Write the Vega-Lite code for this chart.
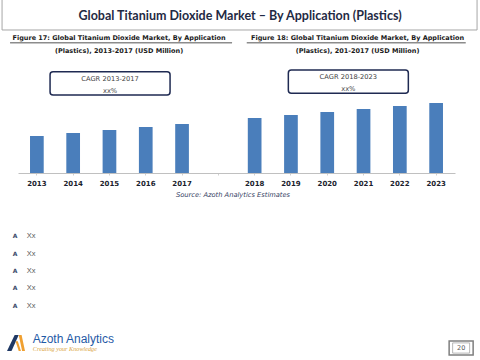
{
  "$schema": "https://vega.github.io/schema/vega-lite/v6.json",
  "autosize": {"type": "none"},
  "width": 437,
  "height": 120,
  "padding": {"left": 18, "right": 25, "top": 53, "bottom": 187},
  "background": "white",
  "config": {"view": {"stroke": null}},
  "data": {"values": [
    {"year": "2013", "value": 37},
    {"year": "2014", "value": 40},
    {"year": "2015", "value": 43},
    {"year": "2016", "value": 46},
    {"year": "2017", "value": 49},
    {"year": "2018", "value": 55},
    {"year": "2019", "value": 58},
    {"year": "2020", "value": 61},
    {"year": "2021", "value": 64},
    {"year": "2022", "value": 67},
    {"year": "2023", "value": 70}
  ]},
  "layer": [
    {
      "mark": {"type": "bar", "color": "#4a7ebb"},
      "encoding": {
        "x": {"field": "year", "type": "nominal",
          "scale": {"domain": ["2013","2014","2015","2016","2017","gap","2018","2019","2020","2021","2022","2023"], "paddingInner": 0.6225, "paddingOuter": 0.331},
          "axis": {"labelExpr": "datum.value == 'gap' ? '' : datum.value", "labelAngle": 0, "labelFont": "DejaVu Sans", "labelFontWeight": "bold", "labelFontSize": 7, "labelColor": "#1b1e2e", "labelPadding": 4, "domainColor": "#c0c0c0", "domainWidth": 1, "ticks": true, "tickSize": 2, "tickColor": "#d0d0d0", "title": "Source: Azoth Analytics Estimates", "titleFont": "DejaVu Sans", "titleFontStyle": "italic", "titleFontWeight": "normal", "titleFontSize": 6.7, "titleColor": "#34405f", "titlePadding": 5, "titleX": 214.5}},
        "y": {"field": "value", "type": "quantitative", "scale": {"domain": [0, 120]}, "axis": null}
      }
    },
    {
      "data": {"values": [{}]},
      "mark": {"type": "point", "shape": "M-1,-0.06526L1,-0.06526L1,0.06526L-1,0.06526Z", "size": 225625, "filled": false, "stroke": "#a6a6a6", "strokeWidth": 1, "opacity": 1, "xOffset": 21.2},
      "encoding": {
        "x": {"datum": "gap", "type": "nominal", "scale": {"domain": ["2013","2014","2015","2016","2017","gap","2018","2019","2020","2021","2022","2023"], "paddingInner": 0.6225, "paddingOuter": 0.331}, "axis": {"labelExpr": "datum.value == 'gap' ? '' : datum.value", "labelAngle": 0, "labelFont": "DejaVu Sans", "labelFontWeight": "bold", "labelFontSize": 7, "labelColor": "#1b1e2e", "labelPadding": 4, "domainColor": "#c0c0c0", "domainWidth": 1, "ticks": true, "tickSize": 2, "tickColor": "#d0d0d0", "title": "Source: Azoth Analytics Estimates", "titleFont": "DejaVu Sans", "titleFontStyle": "italic", "titleFontWeight": "normal", "titleFontSize": 6.7, "titleColor": "#34405f", "titlePadding": 5, "titleX": 214.5}},
        "y": {"datum": 158.5, "type": "quantitative", "scale": {"domain": [0, 120]}, "axis": null}
      }
    },
    {
      "data": {"values": [{}]},
      "mark": {"type": "text", "text": "Global Titanium Dioxide Market – By Application  (Plastics)", "font": "Lato", "fontWeight": "bold", "fontSize": 12.5, "color": "#1f2a44", "align": "center", "baseline": "middle", "xOffset": 21.7},
      "encoding": {
        "x": {"datum": "gap", "type": "nominal", "scale": {"domain": ["2013","2014","2015","2016","2017","gap","2018","2019","2020","2021","2022","2023"], "paddingInner": 0.6225, "paddingOuter": 0.331}, "axis": {"labelExpr": "datum.value == 'gap' ? '' : datum.value", "labelAngle": 0, "labelFont": "DejaVu Sans", "labelFontWeight": "bold", "labelFontSize": 7, "labelColor": "#1b1e2e", "labelPadding": 4, "domainColor": "#c0c0c0", "domainWidth": 1, "ticks": true, "tickSize": 2, "tickColor": "#d0d0d0", "title": "Source: Azoth Analytics Estimates", "titleFont": "DejaVu Sans", "titleFontStyle": "italic", "titleFontWeight": "normal", "titleFontSize": 6.7, "titleColor": "#34405f", "titlePadding": 5, "titleX": 214.5}},
        "y": {"datum": 157.3, "type": "quantitative", "scale": {"domain": [0, 120]}, "axis": null}
      }
    },
    {
      "data": {"values": [{}]},
      "mark": {"type": "text", "text": ["Figure 17: Global Titanium Dioxide Market, By Application", "(Plastics), 2013-2017 (USD Million)"], "lineHeight": 13.3, "font": "DejaVu Sans", "fontWeight": "bold", "fontSize": 6.5, "color": "#1a1a1a", "align": "center", "baseline": "middle", "xOffset": 9.6},
      "encoding": {
        "x": {"datum": "2015", "type": "nominal", "scale": {"domain": ["2013","2014","2015","2016","2017","gap","2018","2019","2020","2021","2022","2023"], "paddingInner": 0.6225, "paddingOuter": 0.331}, "axis": {"labelExpr": "datum.value == 'gap' ? '' : datum.value", "labelAngle": 0, "labelFont": "DejaVu Sans", "labelFontWeight": "bold", "labelFontSize": 7, "labelColor": "#1b1e2e", "labelPadding": 4, "domainColor": "#c0c0c0", "domainWidth": 1, "ticks": true, "tickSize": 2, "tickColor": "#d0d0d0", "title": "Source: Azoth Analytics Estimates", "titleFont": "DejaVu Sans", "titleFontStyle": "italic", "titleFontWeight": "normal", "titleFontSize": 6.7, "titleColor": "#34405f", "titlePadding": 5, "titleX": 214.5}},
        "y": {"datum": 135.3, "type": "quantitative", "scale": {"domain": [0, 120]}, "axis": null}
      }
    },
    {
      "data": {"values": [{}]},
      "mark": {"type": "point", "shape": "M-1,0L1,0", "size": 49284, "filled": false, "stroke": "#8c8c8c", "strokeWidth": 1.5, "opacity": 1, "xOffset": 11.6},
      "encoding": {
        "x": {"datum": "2015", "type": "nominal", "scale": {"domain": ["2013","2014","2015","2016","2017","gap","2018","2019","2020","2021","2022","2023"], "paddingInner": 0.6225, "paddingOuter": 0.331}, "axis": {"labelExpr": "datum.value == 'gap' ? '' : datum.value", "labelAngle": 0, "labelFont": "DejaVu Sans", "labelFontWeight": "bold", "labelFontSize": 7, "labelColor": "#1b1e2e", "labelPadding": 4, "domainColor": "#c0c0c0", "domainWidth": 1, "ticks": true, "tickSize": 2, "tickColor": "#d0d0d0", "title": "Source: Azoth Analytics Estimates", "titleFont": "DejaVu Sans", "titleFontStyle": "italic", "titleFontWeight": "normal", "titleFontSize": 6.7, "titleColor": "#34405f", "titlePadding": 5, "titleX": 214.5}},
        "y": {"datum": 130.3, "type": "quantitative", "scale": {"domain": [0, 120]}, "axis": null}
      }
    },
    {
      "data": {"values": [{}]},
      "mark": {"type": "text", "text": ["Figure 18: Global Titanium Dioxide Market, By Application", "(Plastics), 201-2017 (USD Million)"], "lineHeight": 13.3, "font": "DejaVu Sans", "fontWeight": "bold", "fontSize": 6.5, "color": "#1a1a1a", "align": "center", "baseline": "middle", "xOffset": -6},
      "encoding": {
        "x": {"datum": "2021", "type": "nominal", "scale": {"domain": ["2013","2014","2015","2016","2017","gap","2018","2019","2020","2021","2022","2023"], "paddingInner": 0.6225, "paddingOuter": 0.331}, "axis": {"labelExpr": "datum.value == 'gap' ? '' : datum.value", "labelAngle": 0, "labelFont": "DejaVu Sans", "labelFontWeight": "bold", "labelFontSize": 7, "labelColor": "#1b1e2e", "labelPadding": 4, "domainColor": "#c0c0c0", "domainWidth": 1, "ticks": true, "tickSize": 2, "tickColor": "#d0d0d0", "title": "Source: Azoth Analytics Estimates", "titleFont": "DejaVu Sans", "titleFontStyle": "italic", "titleFontWeight": "normal", "titleFontSize": 6.7, "titleColor": "#34405f", "titlePadding": 5, "titleX": 214.5}},
        "y": {"datum": 135.3, "type": "quantitative", "scale": {"domain": [0, 120]}, "axis": null}
      }
    },
    {
      "data": {"values": [{}]},
      "mark": {"type": "point", "shape": "M-1,0L1,0", "size": 47961, "filled": false, "stroke": "#8c8c8c", "strokeWidth": 1.5, "opacity": 1, "xOffset": -7.3},
      "encoding": {
        "x": {"datum": "2021", "type": "nominal", "scale": {"domain": ["2013","2014","2015","2016","2017","gap","2018","2019","2020","2021","2022","2023"], "paddingInner": 0.6225, "paddingOuter": 0.331}, "axis": {"labelExpr": "datum.value == 'gap' ? '' : datum.value", "labelAngle": 0, "labelFont": "DejaVu Sans", "labelFontWeight": "bold", "labelFontSize": 7, "labelColor": "#1b1e2e", "labelPadding": 4, "domainColor": "#c0c0c0", "domainWidth": 1, "ticks": true, "tickSize": 2, "tickColor": "#d0d0d0", "title": "Source: Azoth Analytics Estimates", "titleFont": "DejaVu Sans", "titleFontStyle": "italic", "titleFontWeight": "normal", "titleFontSize": 6.7, "titleColor": "#34405f", "titlePadding": 5, "titleX": 214.5}},
        "y": {"datum": 130.3, "type": "quantitative", "scale": {"domain": [0, 120]}, "axis": null}
      }
    },
    {
      "data": {"values": [{}]},
      "mark": {"type": "point", "shape": "M-0.95,-0.194L0.95,-0.194Q1,-0.194 1,-0.144L1,0.144Q1,0.194 0.95,0.194L-0.95,0.194Q-1,0.194 -1,0.144L-1,-0.144Q-1,-0.194 -0.95,-0.194Z", "size": 14400, "filled": true, "fill": "white", "stroke": "#1f2a52", "strokeWidth": 1.5, "opacity": 1, "xOffset": 0.6},
      "encoding": {
        "x": {"datum": "2015", "type": "nominal", "scale": {"domain": ["2013","2014","2015","2016","2017","gap","2018","2019","2020","2021","2022","2023"], "paddingInner": 0.6225, "paddingOuter": 0.331}, "axis": {"labelExpr": "datum.value == 'gap' ? '' : datum.value", "labelAngle": 0, "labelFont": "DejaVu Sans", "labelFontWeight": "bold", "labelFontSize": 7, "labelColor": "#1b1e2e", "labelPadding": 4, "domainColor": "#c0c0c0", "domainWidth": 1, "ticks": true, "tickSize": 2, "tickColor": "#d0d0d0", "title": "Source: Azoth Analytics Estimates", "titleFont": "DejaVu Sans", "titleFontStyle": "italic", "titleFontWeight": "normal", "titleFontSize": 6.7, "titleColor": "#34405f", "titlePadding": 5, "titleX": 214.5}},
        "y": {"datum": 89.7, "type": "quantitative", "scale": {"domain": [0, 120]}, "axis": null}
      }
    },
    {
      "data": {"values": [{}]},
      "mark": {"type": "text", "text": ["CAGR 2013-2017", "xx%"], "lineHeight": 11.7, "font": "DejaVu Sans", "fontSize": 6.7, "color": "#404040", "align": "center", "baseline": "middle", "xOffset": 0.6},
      "encoding": {
        "x": {"datum": "2015", "type": "nominal", "scale": {"domain": ["2013","2014","2015","2016","2017","gap","2018","2019","2020","2021","2022","2023"], "paddingInner": 0.6225, "paddingOuter": 0.331}, "axis": {"labelExpr": "datum.value == 'gap' ? '' : datum.value", "labelAngle": 0, "labelFont": "DejaVu Sans", "labelFontWeight": "bold", "labelFontSize": 7, "labelColor": "#1b1e2e", "labelPadding": 4, "domainColor": "#c0c0c0", "domainWidth": 1, "ticks": true, "tickSize": 2, "tickColor": "#d0d0d0", "title": "Source: Azoth Analytics Estimates", "titleFont": "DejaVu Sans", "titleFontStyle": "italic", "titleFontWeight": "normal", "titleFontSize": 6.7, "titleColor": "#34405f", "titlePadding": 5, "titleX": 214.5}},
        "y": {"datum": 94, "type": "quantitative", "scale": {"domain": [0, 120]}, "axis": null}
      }
    },
    {
      "data": {"values": [{}]},
      "mark": {"type": "point", "shape": "M-0.95,-0.194L0.95,-0.194Q1,-0.194 1,-0.144L1,0.144Q1,0.194 0.95,0.194L-0.95,0.194Q-1,0.194 -1,0.144L-1,-0.144Q-1,-0.194 -0.95,-0.194Z", "size": 14400, "filled": true, "fill": "white", "stroke": "#1f2a52", "strokeWidth": 1.5, "opacity": 1, "xOffset": -15.2},
      "encoding": {
        "x": {"datum": "2021", "type": "nominal", "scale": {"domain": ["2013","2014","2015","2016","2017","gap","2018","2019","2020","2021","2022","2023"], "paddingInner": 0.6225, "paddingOuter": 0.331}, "axis": {"labelExpr": "datum.value == 'gap' ? '' : datum.value", "labelAngle": 0, "labelFont": "DejaVu Sans", "labelFontWeight": "bold", "labelFontSize": 7, "labelColor": "#1b1e2e", "labelPadding": 4, "domainColor": "#c0c0c0", "domainWidth": 1, "ticks": true, "tickSize": 2, "tickColor": "#d0d0d0", "title": "Source: Azoth Analytics Estimates", "titleFont": "DejaVu Sans", "titleFontStyle": "italic", "titleFontWeight": "normal", "titleFontSize": 6.7, "titleColor": "#34405f", "titlePadding": 5, "titleX": 214.5}},
        "y": {"datum": 91.3, "type": "quantitative", "scale": {"domain": [0, 120]}, "axis": null}
      }
    },
    {
      "data": {"values": [{}]},
      "mark": {"type": "text", "text": ["CAGR 2018-2023", "xx%"], "lineHeight": 12.6, "font": "DejaVu Sans", "fontSize": 6.7, "color": "#404040", "align": "center", "baseline": "middle", "xOffset": -15.2},
      "encoding": {
        "x": {"datum": "2021", "type": "nominal", "scale": {"domain": ["2013","2014","2015","2016","2017","gap","2018","2019","2020","2021","2022","2023"], "paddingInner": 0.6225, "paddingOuter": 0.331}, "axis": {"labelExpr": "datum.value == 'gap' ? '' : datum.value", "labelAngle": 0, "labelFont": "DejaVu Sans", "labelFontWeight": "bold", "labelFontSize": 7, "labelColor": "#1b1e2e", "labelPadding": 4, "domainColor": "#c0c0c0", "domainWidth": 1, "ticks": true, "tickSize": 2, "tickColor": "#d0d0d0", "title": "Source: Azoth Analytics Estimates", "titleFont": "DejaVu Sans", "titleFontStyle": "italic", "titleFontWeight": "normal", "titleFontSize": 6.7, "titleColor": "#34405f", "titlePadding": 5, "titleX": 214.5}},
        "y": {"datum": 96.3, "type": "quantitative", "scale": {"domain": [0, 120]}, "axis": null}
      }
    },
    {
      "data": {"values": [{}]},
      "mark": {"type": "text", "text": ["A", "A", "A", "A", "A"], "lineHeight": 17.33, "font": "DejaVu Sans", "fontWeight": "bold", "fontSize": 6, "color": "#3a4a6a", "align": "center", "baseline": "alphabetic", "xOffset": -21.8},
      "encoding": {
        "x": {"datum": "2013", "type": "nominal", "scale": {"domain": ["2013","2014","2015","2016","2017","gap","2018","2019","2020","2021","2022","2023"], "paddingInner": 0.6225, "paddingOuter": 0.331}, "axis": {"labelExpr": "datum.value == 'gap' ? '' : datum.value", "labelAngle": 0, "labelFont": "DejaVu Sans", "labelFontWeight": "bold", "labelFontSize": 7, "labelColor": "#1b1e2e", "labelPadding": 4, "domainColor": "#c0c0c0", "domainWidth": 1, "ticks": true, "tickSize": 2, "tickColor": "#d0d0d0", "title": "Source: Azoth Analytics Estimates", "titleFont": "DejaVu Sans", "titleFontStyle": "italic", "titleFontWeight": "normal", "titleFontSize": 6.7, "titleColor": "#34405f", "titlePadding": 5, "titleX": 214.5}},
        "y": {"datum": -65.2, "type": "quantitative", "scale": {"domain": [0, 120]}, "axis": null}
      }
    },
    {
      "data": {"values": [{}]},
      "mark": {"type": "text", "text": ["Xx", "Xx", "Xx", "Xx", "Xx"], "lineHeight": 17.33, "font": "Liberation Sans", "fontSize": 7.5, "color": "#595959", "align": "left", "baseline": "alphabetic", "xOffset": -10},
      "encoding": {
        "x": {"datum": "2013", "type": "nominal", "scale": {"domain": ["2013","2014","2015","2016","2017","gap","2018","2019","2020","2021","2022","2023"], "paddingInner": 0.6225, "paddingOuter": 0.331}, "axis": {"labelExpr": "datum.value == 'gap' ? '' : datum.value", "labelAngle": 0, "labelFont": "DejaVu Sans", "labelFontWeight": "bold", "labelFontSize": 7, "labelColor": "#1b1e2e", "labelPadding": 4, "domainColor": "#c0c0c0", "domainWidth": 1, "ticks": true, "tickSize": 2, "tickColor": "#d0d0d0", "title": "Source: Azoth Analytics Estimates", "titleFont": "DejaVu Sans", "titleFontStyle": "italic", "titleFontWeight": "normal", "titleFontSize": 6.7, "titleColor": "#34405f", "titlePadding": 5, "titleX": 214.5}},
        "y": {"datum": -65.4, "type": "quantitative", "scale": {"domain": [0, 120]}, "axis": null}
      }
    },
    {
      "data": {"values": [{}]},
      "mark": {"type": "point", "shape": "M-1,0.89L-0.15,-0.89L0.3,-0.89L-0.5,0.89Z", "size": 324, "filled": true, "fill": "#1f3864", "strokeWidth": 0, "opacity": 1, "xOffset": -20.85},
      "encoding": {
        "x": {"datum": "2013", "type": "nominal", "scale": {"domain": ["2013","2014","2015","2016","2017","gap","2018","2019","2020","2021","2022","2023"], "paddingInner": 0.6225, "paddingOuter": 0.331}, "axis": {"labelExpr": "datum.value == 'gap' ? '' : datum.value", "labelAngle": 0, "labelFont": "DejaVu Sans", "labelFontWeight": "bold", "labelFontSize": 7, "labelColor": "#1b1e2e", "labelPadding": 4, "domainColor": "#c0c0c0", "domainWidth": 1, "ticks": true, "tickSize": 2, "tickColor": "#d0d0d0", "title": "Source: Azoth Analytics Estimates", "titleFont": "DejaVu Sans", "titleFontStyle": "italic", "titleFontWeight": "normal", "titleFontSize": 6.7, "titleColor": "#34405f", "titlePadding": 5, "titleX": 214.5}},
        "y": {"datum": -170, "type": "quantitative", "scale": {"domain": [0, 120]}, "axis": null}
      }
    },
    {
      "data": {"values": [{}]},
      "mark": {"type": "point", "shape": "M0.3,-0.89L0.62,-0.89L1,0.89L0.68,0.89Z M-0.05,-0.2L0.2,-0.2L0.55,0.89L0.3,0.89Z", "size": 324, "filled": true, "fill": "#f0a030", "strokeWidth": 0, "opacity": 1, "xOffset": -20.85},
      "encoding": {
        "x": {"datum": "2013", "type": "nominal", "scale": {"domain": ["2013","2014","2015","2016","2017","gap","2018","2019","2020","2021","2022","2023"], "paddingInner": 0.6225, "paddingOuter": 0.331}, "axis": {"labelExpr": "datum.value == 'gap' ? '' : datum.value", "labelAngle": 0, "labelFont": "DejaVu Sans", "labelFontWeight": "bold", "labelFontSize": 7, "labelColor": "#1b1e2e", "labelPadding": 4, "domainColor": "#c0c0c0", "domainWidth": 1, "ticks": true, "tickSize": 2, "tickColor": "#d0d0d0", "title": "Source: Azoth Analytics Estimates", "titleFont": "DejaVu Sans", "titleFontStyle": "italic", "titleFontWeight": "normal", "titleFontSize": 6.7, "titleColor": "#34405f", "titlePadding": 5, "titleX": 214.5}},
        "y": {"datum": -170, "type": "quantitative", "scale": {"domain": [0, 120]}, "axis": null}
      }
    },
    {
      "data": {"values": [{}]},
      "mark": {"type": "text", "text": "Azoth Analytics", "font": "Liberation Sans", "fontSize": 12, "color": "#1f5aa6", "align": "left", "baseline": "middle", "xOffset": -4.2},
      "encoding": {
        "x": {"datum": "2013", "type": "nominal", "scale": {"domain": ["2013","2014","2015","2016","2017","gap","2018","2019","2020","2021","2022","2023"], "paddingInner": 0.6225, "paddingOuter": 0.331}, "axis": {"labelExpr": "datum.value == 'gap' ? '' : datum.value", "labelAngle": 0, "labelFont": "DejaVu Sans", "labelFontWeight": "bold", "labelFontSize": 7, "labelColor": "#1b1e2e", "labelPadding": 4, "domainColor": "#c0c0c0", "domainWidth": 1, "ticks": true, "tickSize": 2, "tickColor": "#d0d0d0", "title": "Source: Azoth Analytics Estimates", "titleFont": "DejaVu Sans", "titleFontStyle": "italic", "titleFontWeight": "normal", "titleFontSize": 6.7, "titleColor": "#34405f", "titlePadding": 5, "titleX": 214.5}},
        "y": {"datum": -166, "type": "quantitative", "scale": {"domain": [0, 120]}, "axis": null}
      }
    },
    {
      "data": {"values": [{}]},
      "mark": {"type": "text", "text": "Creating your Knowledge", "font": "Liberation Serif", "fontStyle": "italic", "fontSize": 6.2, "color": "#d9a441", "align": "left", "baseline": "middle", "xOffset": -4},
      "encoding": {
        "x": {"datum": "2013", "type": "nominal", "scale": {"domain": ["2013","2014","2015","2016","2017","gap","2018","2019","2020","2021","2022","2023"], "paddingInner": 0.6225, "paddingOuter": 0.331}, "axis": {"labelExpr": "datum.value == 'gap' ? '' : datum.value", "labelAngle": 0, "labelFont": "DejaVu Sans", "labelFontWeight": "bold", "labelFontSize": 7, "labelColor": "#1b1e2e", "labelPadding": 4, "domainColor": "#c0c0c0", "domainWidth": 1, "ticks": true, "tickSize": 2, "tickColor": "#d0d0d0", "title": "Source: Azoth Analytics Estimates", "titleFont": "DejaVu Sans", "titleFontStyle": "italic", "titleFontWeight": "normal", "titleFontSize": 6.7, "titleColor": "#34405f", "titlePadding": 5, "titleX": 214.5}},
        "y": {"datum": -176, "type": "quantitative", "scale": {"domain": [0, 120]}, "axis": null}
      }
    },
    {
      "data": {"values": [{}]},
      "mark": {"type": "point", "shape": "M-1,-0.583L1,-0.583L1,0.583L-1,0.583Z", "size": 576, "filled": false, "stroke": "#7f7f7f", "strokeWidth": 1.5, "opacity": 1, "xOffset": 25},
      "encoding": {
        "x": {"datum": "2023", "type": "nominal", "scale": {"domain": ["2013","2014","2015","2016","2017","gap","2018","2019","2020","2021","2022","2023"], "paddingInner": 0.6225, "paddingOuter": 0.331}, "axis": {"labelExpr": "datum.value == 'gap' ? '' : datum.value", "labelAngle": 0, "labelFont": "DejaVu Sans", "labelFontWeight": "bold", "labelFontSize": 7, "labelColor": "#1b1e2e", "labelPadding": 4, "domainColor": "#c0c0c0", "domainWidth": 1, "ticks": true, "tickSize": 2, "tickColor": "#d0d0d0", "title": "Source: Azoth Analytics Estimates", "titleFont": "DejaVu Sans", "titleFontStyle": "italic", "titleFontWeight": "normal", "titleFontSize": 6.7, "titleColor": "#34405f", "titlePadding": 5, "titleX": 214.5}},
        "y": {"datum": -175, "type": "quantitative", "scale": {"domain": [0, 120]}, "axis": null}
      }
    },
    {
      "data": {"values": [{}]},
      "mark": {"type": "point", "shape": "M-1,-0.6L1,-0.6L1,0.6L-1,0.6Z", "size": 289, "filled": false, "stroke": "#9a9a9a", "strokeWidth": 0.7, "opacity": 1, "xOffset": 25},
      "encoding": {
        "x": {"datum": "2023", "type": "nominal", "scale": {"domain": ["2013","2014","2015","2016","2017","gap","2018","2019","2020","2021","2022","2023"], "paddingInner": 0.6225, "paddingOuter": 0.331}, "axis": {"labelExpr": "datum.value == 'gap' ? '' : datum.value", "labelAngle": 0, "labelFont": "DejaVu Sans", "labelFontWeight": "bold", "labelFontSize": 7, "labelColor": "#1b1e2e", "labelPadding": 4, "domainColor": "#c0c0c0", "domainWidth": 1, "ticks": true, "tickSize": 2, "tickColor": "#d0d0d0", "title": "Source: Azoth Analytics Estimates", "titleFont": "DejaVu Sans", "titleFontStyle": "italic", "titleFontWeight": "normal", "titleFontSize": 6.7, "titleColor": "#34405f", "titlePadding": 5, "titleX": 214.5}},
        "y": {"datum": -175, "type": "quantitative", "scale": {"domain": [0, 120]}, "axis": null}
      }
    },
    {
      "data": {"values": [{}]},
      "mark": {"type": "text", "text": "20", "font": "DejaVu Sans", "fontSize": 6.5, "color": "#595959", "align": "center", "baseline": "middle", "xOffset": 25},
      "encoding": {
        "x": {"datum": "2023", "type": "nominal", "scale": {"domain": ["2013","2014","2015","2016","2017","gap","2018","2019","2020","2021","2022","2023"], "paddingInner": 0.6225, "paddingOuter": 0.331}, "axis": {"labelExpr": "datum.value == 'gap' ? '' : datum.value", "labelAngle": 0, "labelFont": "DejaVu Sans", "labelFontWeight": "bold", "labelFontSize": 7, "labelColor": "#1b1e2e", "labelPadding": 4, "domainColor": "#c0c0c0", "domainWidth": 1, "ticks": true, "tickSize": 2, "tickColor": "#d0d0d0", "title": "Source: Azoth Analytics Estimates", "titleFont": "DejaVu Sans", "titleFontStyle": "italic", "titleFontWeight": "normal", "titleFontSize": 6.7, "titleColor": "#34405f", "titlePadding": 5, "titleX": 214.5}},
        "y": {"datum": -175, "type": "quantitative", "scale": {"domain": [0, 120]}, "axis": null}
      }
    }
  ]
}
